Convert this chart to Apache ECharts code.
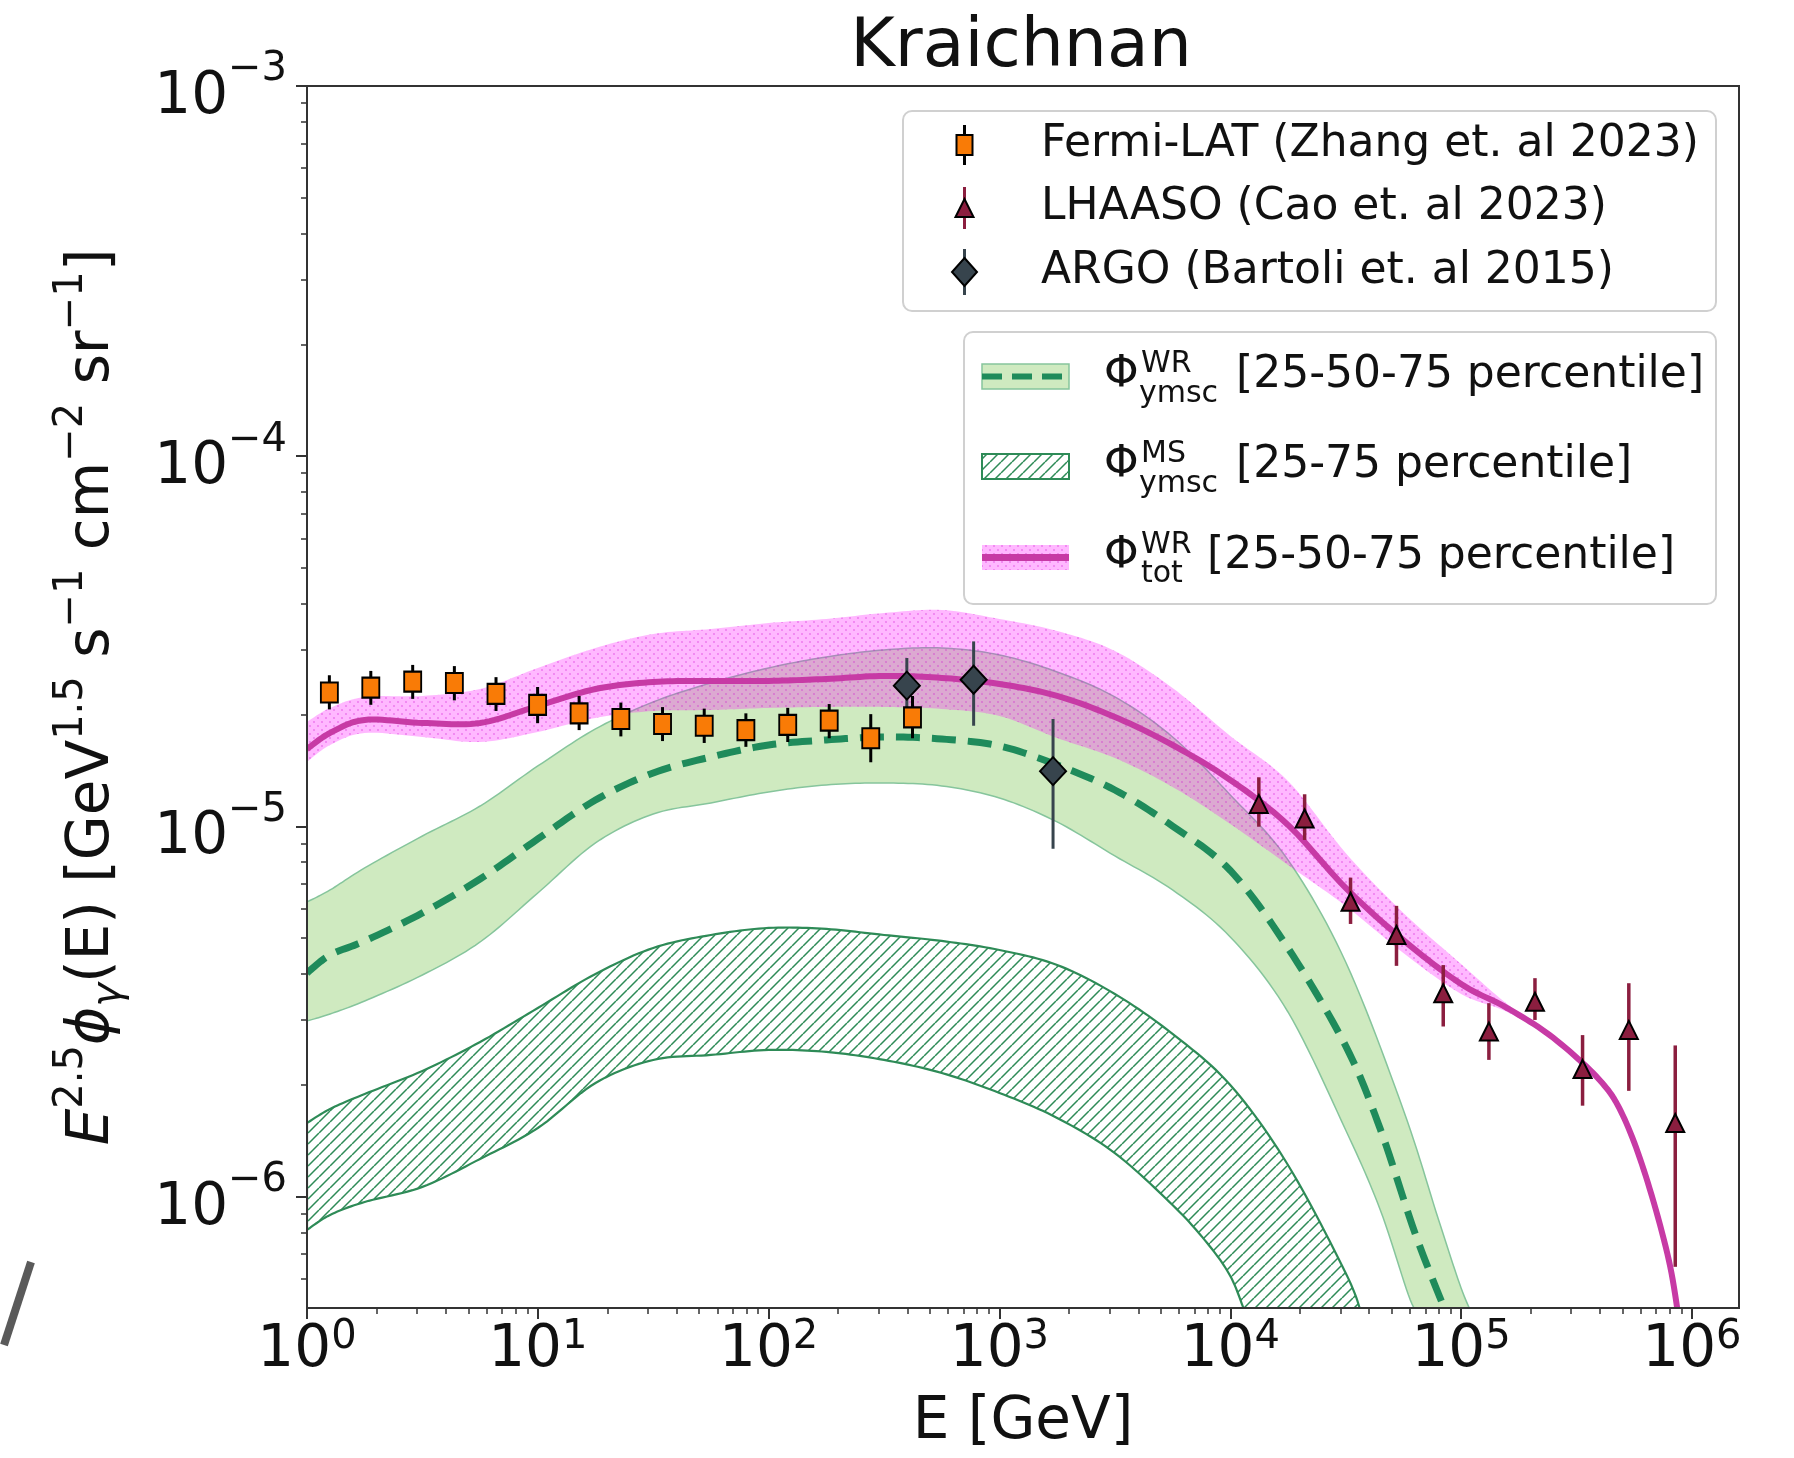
<!DOCTYPE html>
<html>
<head>
<meta charset="utf-8">
<script src="https://cdn.jsdelivr.net/npm/echarts@6/dist/echarts.min.js"></script>
<style>
  html, body { margin: 0; padding: 0; background: #fff; }
  #chart { width: 1794px; height: 1458px; }
</style>
</head>
<body>
<div id="chart"></div>
<script>
// ---------- measured data ----------
const fermiE    = [1.25, 1.89, 2.87, 4.35, 6.59, 9.98, 15.1, 22.9, 34.7, 52.6, 79.7, 121, 183, 277, 420];
const fermiFlux = [2.30e-5, 2.37e-5, 2.46e-5, 2.44e-5, 2.28e-5, 2.13e-5, 2.02e-5, 1.95e-5, 1.89e-5, 1.87e-5, 1.82e-5, 1.88e-5, 1.93e-5, 1.73e-5, 1.97e-5];
const fermiLo   = [2.07e-5, 2.13e-5, 2.21e-5, 2.19e-5, 2.05e-5, 1.90e-5, 1.82e-5, 1.75e-5, 1.70e-5, 1.68e-5, 1.64e-5, 1.69e-5, 1.73e-5, 1.49e-5, 1.73e-5];
const fermiHi   = [2.56e-5, 2.63e-5, 2.73e-5, 2.71e-5, 2.53e-5, 2.38e-5, 2.25e-5, 2.16e-5, 2.10e-5, 2.08e-5, 2.02e-5, 2.09e-5, 2.14e-5, 2.01e-5, 2.25e-5];

const lhaasoE    = [13300, 21000, 33200, 52500, 83700, 132000, 209000, 336000, 533000, 847000];
const lhaasoFlux = [1.15e-5, 1.05e-5, 6.26e-6, 5.09e-6, 3.54e-6, 2.79e-6, 3.36e-6, 2.21e-6, 2.82e-6, 1.58e-6];
const lhaasoLo   = [9.98e-6, 9.19e-6, 5.45e-6, 4.20e-6, 2.88e-6, 2.34e-6, 3.00e-6, 1.76e-6, 1.93e-6, 6.46e-7];
const lhaasoHi   = [1.357e-5, 1.221e-5, 7.27e-6, 6.10e-6, 4.22e-6, 3.33e-6, 3.89e-6, 2.73e-6, 3.77e-6, 2.56e-6];

const argoE    = [397, 773, 1707];
const argoFlux = [2.40e-5, 2.49e-5, 1.41e-5];
const argoLo   = [2.00e-5, 1.87e-5, 8.70e-6];
const argoHi   = [2.85e-5, 3.16e-5, 1.95e-5];

// ---------- model curves ----------
// energy grid shared by the total-flux band
const totE = [1, 1.259, 1.778, 3.162, 5.623, 10, 17.78, 31.62, 56.23, 100, 177.8, 316.2, 562.3, 1000, 1778, 3162, 5623,
              10000, 17783, 31623, 56234, 100000, 158489, 251189, 398107, 501187, 630957, 794328, 891251];
const totMedian = [1.618e-5, 1.788e-5, 1.939e-5, 1.903e-5, 1.903e-5, 2.115e-5, 2.350e-5, 2.455e-5, 2.471e-5, 2.471e-5,
                   2.502e-5, 2.549e-5, 2.518e-5, 2.425e-5, 2.251e-5, 1.975e-5, 1.659e-5, 1.335e-5, 1.009e-5, 6.82e-6,
                   4.93e-6, 3.752e-6, 3.231e-6, 2.682e-6, 2.065e-6, 1.661e-6, 1.137e-6, 6.74e-7, 4.36e-7];
const totUpper  = [1.915e-5, 2.089e-5, 2.237e-5, 2.251e-5, 2.350e-5, 2.679e-5, 3.033e-5, 3.309e-5, 3.414e-5, 3.543e-5,
                   3.633e-5, 3.771e-5, 3.842e-5, 3.633e-5, 3.372e-5, 2.977e-5, 2.365e-5, 1.755e-5, 1.326e-5, 8.475e-6,
                   5.836e-6, 4.249e-6, 3.313e-6, 2.716e-6, 2.091e-6, 1.682e-6, 1.151e-6, 6.83e-7, 4.42e-7];
const totLower  = [1.493e-5, 1.659e-5, 1.788e-5, 1.744e-5, 1.690e-5, 1.799e-5, 1.963e-5, 2.050e-5, 2.063e-5, 2.089e-5,
                   2.102e-5, 2.102e-5, 2.076e-5, 1.987e-5, 1.733e-5, 1.530e-5, 1.278e-5, 1.015e-5, 7.87e-6, 6.096e-6,
                   4.550e-6, 3.526e-6, 3.152e-6, 2.649e-6, 2.039e-6, 1.641e-6, 1.123e-6, 6.66e-7, 4.31e-7];

// WR young massive star clusters
const wrUpperE = [1, 1.259, 1.778, 3.162, 5.623, 10, 17.78, 31.62, 56.23, 100, 177.8, 316.2, 562.3, 1000, 1778, 3162, 5623,
                  10000, 17783, 31623, 56234, 79433, 100000, 114815];
const wrUpper  = [6.249e-6, 6.733e-6, 7.721e-6, 9.420e-6, 1.135e-5, 1.456e-5, 1.833e-5, 2.168e-5, 2.440e-5, 2.679e-5,
                  2.869e-5, 2.996e-5, 3.033e-5, 2.904e-5, 2.613e-5, 2.237e-5, 1.744e-5, 1.216e-5, 8.116e-6, 4.302e-6,
                  1.714e-6, 8.752e-7, 5.664e-7, 4.64e-7];
const wrLowerE = [1, 1.259, 1.778, 3.162, 5.623, 10, 17.78, 31.62, 56.23, 100, 177.8, 316.2, 562.3, 1000, 1778, 3162, 5623,
                  10000, 17783, 31623, 44668, 60256, 67608];
const wrLower  = [2.981e-6, 3.113e-6, 3.376e-6, 3.968e-6, 4.872e-6, 6.609e-6, 9.020e-6, 1.080e-5, 1.157e-5, 1.239e-5,
                  1.294e-5, 1.310e-5, 1.286e-5, 1.193e-5, 1.028e-5, 8.320e-6, 6.733e-6, 5.026e-6, 3.152e-6, 1.513e-6,
                  9.20e-7, 5.257e-7, 4.79e-7];
const wrMedianE = [1, 1.259, 1.778, 3.162, 5.623, 10, 17.78, 31.62, 56.23, 100, 177.8, 316.2, 562.3, 1000, 1778, 3162, 5623,
                   10000, 17783, 31623, 44668, 63096, 85114];
const wrMedian  = [4.018e-6, 4.494e-6, 4.903e-6, 5.836e-6, 7.209e-6, 9.247e-6, 1.178e-5, 1.394e-5, 1.540e-5, 1.659e-5,
                   1.712e-5, 1.744e-5, 1.722e-5, 1.649e-5, 1.465e-5, 1.254e-5, 1.002e-5, 7.60e-6, 4.694e-6, 2.552e-6,
                   1.522e-6, 7.974e-7, 4.94e-7];

// MS young massive star clusters
const msUpperE = [1, 1.259, 1.778, 3.162, 5.623, 10, 17.78, 31.62, 56.23, 100, 177.8, 316.2, 562.3, 1000, 1778, 3162, 5623,
                  10000, 17783, 31623, 37154];
const msUpper  = [1.580e-6, 1.725e-6, 1.893e-6, 2.185e-6, 2.616e-6, 3.231e-6, 3.994e-6, 4.694e-6, 5.089e-6, 5.316e-6,
                  5.283e-6, 5.089e-6, 4.903e-6, 4.636e-6, 4.223e-6, 3.526e-6, 2.750e-6, 2.002e-6, 1.217e-6, 6.218e-7, 4.79e-7];
const msLowerE = [1, 1.259, 1.778, 3.162, 5.623, 10, 17.78, 31.62, 56.23, 100, 177.8, 316.2, 562.3, 1000, 1778, 3162, 5623,
                  7943, 10000, 11482];
const msLower  = [8.126e-7, 8.920e-7, 9.670e-7, 1.062e-6, 1.264e-6, 1.532e-6, 2.027e-6, 2.339e-6, 2.413e-6, 2.489e-6,
                  2.459e-6, 2.339e-6, 2.157e-6, 1.905e-6, 1.631e-6, 1.310e-6, 9.49e-7, 7.49e-7, 6.103e-7, 4.94e-7];

// axis ticks
const xTickValues = [1, 10, 100, 1e3, 1e4, 1e5, 1e6];
const yTickValues = [1e-6, 1e-5, 1e-4, 1e-3];
const xRange = [1, 1.6e6];
const yRange = [5e-7, 1e-3];

// ---------- styling helpers ----------
const FONT = '"DejaVu Sans", "Liberation Sans", sans-serif';
const TXT = '#111';
const C_ORANGE = '#f97b06', C_LHAASO = '#8b1e3f', C_ARGO = '#37444d';
const C_MAG = '#c73aa5', C_DASH = '#1f8b5b', C_HATCH = '#2e8b57';
const C_GREEN = '#cfeac0', C_GREEN_EDGE = '#86c59c';

function makeHatch(color) {
  const s = 11, c = document.createElement('canvas');
  c.width = s; c.height = s;
  const g = c.getContext('2d');
  g.strokeStyle = color; g.lineWidth = 1.5;
  g.beginPath();
  for (const o of [-s, 0, s]) { g.moveTo(o, s); g.lineTo(o + s, 0); }
  g.stroke();
  return c;
}
function makeDots() {
  const s = 8, c = document.createElement('canvas');
  c.width = s; c.height = s;
  const g = c.getContext('2d');
  g.fillStyle = 'rgba(255,0,255,0.28)';
  g.fillRect(0, 0, s, s);
  g.fillStyle = 'rgba(205,0,205,0.32)';
  for (const p of [[2, 2], [6, 6]]) { g.beginPath(); g.arc(p[0], p[1], 1.1, 0, Math.PI * 2); g.fill(); }
  return c;
}
const hatchFill = { image: makeHatch(C_HATCH), repeat: 'repeat' };
const dotFill = { image: makeDots(), repeat: 'repeat' };

// Catmull-Rom smoothing of screen points
function smooth(pts, steps) {
  const out = [];
  for (let i = 0; i < pts.length - 1; i++) {
    const p0 = pts[i - 1] || pts[i], p1 = pts[i], p2 = pts[i + 1], p3 = pts[i + 2] || pts[i + 1];
    const c1 = [p1[0] + (p2[0] - p0[0]) / 6, p1[1] + (p2[1] - p0[1]) / 6];
    const c2 = [p2[0] - (p3[0] - p1[0]) / 6, p2[1] - (p3[1] - p1[1]) / 6];
    for (let k = 0; k < steps; k++) {
      const t = k / steps, u = 1 - t;
      const a = u * u * u, b = 3 * u * u * t, c = 3 * u * t * t, d = t * t * t;
      out.push([a * p1[0] + b * c1[0] + c * c2[0] + d * p2[0], a * p1[1] + b * c1[1] + c * c2[1] + d * p2[1]]);
    }
  }
  out.push(pts[pts.length - 1]);
  return out;
}

function bandSeries(id, upE, upV, loE, loV, style, z) {
  return {
    type: 'custom', id, coordinateSystem: 'cartesian2d', clip: true, silent: true, z,
    data: [[upE[0], upV[0]]],
    renderItem(params, api) {
      const up = smooth(upE.map((e, i) => api.coord([e, upV[i]])), 12);
      const lo = smooth(loE.map((e, i) => api.coord([e, loV[i]])), 12).reverse();
      return { type: 'polygon', shape: { points: up.concat(lo) }, style };
    }
  };
}
function curveSeries(id, E, V, style, z) {
  return {
    type: 'custom', id, coordinateSystem: 'cartesian2d', clip: true, silent: true, z,
    data: [[E[0], V[0]]],
    renderItem(params, api) {
      const pts = smooth(E.map((e, i) => api.coord([e, V[i]])), 12);
      return { type: 'polyline', shape: { points: pts }, style: Object.assign({ fill: null }, style) };
    }
  };
}
function errorSeries(id, E, lo, hi, color, width, z) {
  return {
    type: 'custom', id, coordinateSystem: 'cartesian2d', clip: false, silent: true, z,
    data: E.map((e, i) => [e, lo[i], hi[i]]),
    renderItem(params, api) {
      const a = api.coord([api.value(0), api.value(1)]);
      const b = api.coord([api.value(0), api.value(2)]);
      return { type: 'line', shape: { x1: a[0], y1: a[1], x2: b[0], y2: b[1] }, style: { stroke: color, lineWidth: width } };
    }
  };
}
function markerSeries(id, E, V, symbol, size, color, z) {
  return {
    type: 'scatter', id, symbol, symbolSize: size, z, silent: true,
    data: E.map((e, i) => [e, V[i]]),
    itemStyle: { color, borderColor: '#000', borderWidth: 2, opacity: 1 }
  };
}

// ---------- tick label formatting ----------
function decadeLabel(v) {
  const p = Math.round(Math.log10(v));
  return '{b|10}{s|' + (p < 0 ? '\u2212' + (-p) : String(p)) + '}';
}
const yTickRich = {
  b: { fontFamily: FONT, fontSize: 58, color: TXT, height: 58, lineHeight: 90, padding: [28, 0, 4, 0], verticalAlign: 'top' },
  s: { fontFamily: FONT, fontSize: 40, color: TXT, height: 40, lineHeight: 90, padding: [9, 0, 41, 0], verticalAlign: 'top' }
};
const xTickRich = {
  b: { fontFamily: FONT, fontSize: 58, color: TXT, height: 58, lineHeight: 62, padding: [4, 0, 0, 0], verticalAlign: 'top' },
  s: { fontFamily: FONT, fontSize: 40, color: TXT, height: 40, lineHeight: 62, padding: [0, 0, 22, 0], verticalAlign: 'top' }
};
const nameRich = {
  r:  { fontFamily: FONT, fontSize: 58, color: TXT, height: 58, lineHeight: 100, padding: [21, 0, 21, 0], verticalAlign: 'top' },
  it: { fontFamily: FONT, fontSize: 58, fontStyle: 'italic', color: TXT, height: 58, lineHeight: 100, padding: [21, 0, 21, 0], verticalAlign: 'top' },
  s:  { fontFamily: FONT, fontSize: 40, color: TXT, height: 40, lineHeight: 100, padding: [8, 0, 52, 0], verticalAlign: 'top' },
  u:  { fontFamily: FONT, fontSize: 40, fontStyle: 'italic', color: TXT, height: 40, lineHeight: 100, padding: [46, 0, 14, 0], verticalAlign: 'top' }
};
const yName = '{it|E}{s|2.5}{it|\u03d5}{u|\u03b3}{r|(E) [GeV}{s|1.5}{r| s}{s|\u22121}{r| cm}{s|\u22122}{r| sr}{s|\u22121}{r|]}';

function axisCommon(ticks, rich, margin) {
  return {
    type: 'log', logBase: 10, z: 10,
    axisLine: { show: true, lineStyle: { color: '#333', width: 2 } },
    axisTick: { show: true, inside: false, length: 11, customValues: ticks, lineStyle: { color: '#333', width: 2 } },
    minorTick: { show: true, splitNumber: 9, length: 6, lineStyle: { color: '#333', width: 1.5 } },
    axisLabel: { show: true, customValues: ticks, margin, formatter: decadeLabel, rich },
    splitLine: { show: false }, minorSplitLine: { show: false }
  };
}

// ---------- legend graphics ----------
function txt(text, x, y, size, extra) {
  return { type: 'text', silent: true, z: 100, style: Object.assign({
    text, x, y, fill: TXT, font: size + 'px ' + FONT,
    textAlign: 'left', align: 'left', textVerticalAlign: 'middle', verticalAlign: 'middle'
  }, extra || {}) };
}
const legendGraphics = [
  // data legend box
  { type: 'rect', silent: true, z: 90, shape: { x: 903, y: 111, width: 813, height: 200, r: 9 },
    style: { fill: 'rgba(255,255,255,0.85)', stroke: '#d0d0d0', lineWidth: 2 } },
  { type: 'line', silent: true, z: 95, shape: { x1: 964.5, y1: 125, x2: 964.5, y2: 165 }, style: { stroke: '#000', lineWidth: 3 } },
  { type: 'rect', silent: true, z: 96, shape: { x: 956.5, y: 135, width: 16, height: 20 }, style: { fill: C_ORANGE, stroke: '#000', lineWidth: 2 } },
  { type: 'line', silent: true, z: 95, shape: { x1: 964.5, y1: 187, x2: 964.5, y2: 229 }, style: { stroke: C_LHAASO, lineWidth: 3 } },
  { type: 'polygon', silent: true, z: 96, shape: { points: [[964.5, 199], [955.5, 217], [973.5, 217]] }, style: { fill: C_LHAASO, stroke: '#000', lineWidth: 2 } },
  { type: 'line', silent: true, z: 95, shape: { x1: 964.5, y1: 249, x2: 964.5, y2: 295 }, style: { stroke: C_ARGO, lineWidth: 3 } },
  { type: 'polygon', silent: true, z: 96, shape: { points: [[964.5, 258], [977, 272], [964.5, 286], [952, 272]] }, style: { fill: C_ARGO, stroke: '#000', lineWidth: 2 } },
  txt('Fermi-LAT (Zhang et. al 2023)', 1041, 145, 44),
  txt('LHAASO (Cao et. al 2023)', 1041, 208, 44),
  txt('ARGO (Bartoli et. al 2015)', 1041, 272, 44),

  // model legend box
  { type: 'rect', silent: true, z: 90, shape: { x: 964, y: 332, width: 752, height: 272, r: 9 },
    style: { fill: 'rgba(255,255,255,0.85)', stroke: '#d0d0d0', lineWidth: 2 } },
  { type: 'rect', silent: true, z: 95, shape: { x: 982, y: 364, width: 87, height: 25 }, style: { fill: C_GREEN, stroke: C_GREEN_EDGE, lineWidth: 1.5 } },
  { type: 'line', silent: true, z: 96, shape: { x1: 982, y1: 376.5, x2: 1069, y2: 376.5 }, style: { stroke: C_DASH, lineWidth: 6, lineDash: [20, 10] } },
  { type: 'rect', silent: true, z: 95, shape: { x: 982, y: 454, width: 87, height: 25 }, style: { fill: hatchFill, stroke: C_HATCH, lineWidth: 2 } },
  { type: 'rect', silent: true, z: 95, shape: { x: 982, y: 545, width: 87, height: 25 }, style: { fill: dotFill } },
  { type: 'line', silent: true, z: 96, shape: { x1: 982, y1: 557.5, x2: 1069, y2: 557.5 }, style: { stroke: C_MAG, lineWidth: 7 } },

  txt('\u03a6', 1104, 376, 44), txt('WR', 1141, 364, 30), txt('ymsc', 1139, 394, 30),
  txt('[25-50-75 percentile]', 1236, 376, 44),
  txt('\u03a6', 1104, 466, 44), txt('MS', 1141, 454, 30), txt('ymsc', 1139, 484, 30),
  txt('[25-75 percentile]', 1236, 466, 44),
  txt('\u03a6', 1104, 557, 44), txt('WR', 1141, 545, 30), txt('tot', 1141, 574, 30),
  txt('[25-50-75 percentile]', 1207, 557, 44),

  // title
  txt('Kraichnan', 1021, 48, 68, { textAlign: 'center', align: 'center' }),
  // clipped stroke at the lower-left border
  { type: 'polyline', silent: true, z: 5, shape: { points: [[31, 1262], [4, 1345]] }, style: { stroke: '#5a5a5a', lineWidth: 8, fill: null } }
];

// ---------- chart ----------
const chart = echarts.init(document.getElementById('chart'), null, { renderer: 'canvas' });
chart.setOption({
  animation: false,
  backgroundColor: '#fff',
  grid: { left: 307, top: 86, width: 1432, height: 1222, show: true, borderColor: '#333', borderWidth: 2,
          backgroundColor: 'transparent', z: 10, containLabel: false, outerBoundsMode: 'none' },
  xAxis: [Object.assign(axisCommon(xTickValues, xTickRich, 10), {
    min: xRange[0], max: xRange[1], position: 'bottom',
    name: 'E [GeV]', nameLocation: 'middle', nameGap: 86,
    nameTextStyle: { fontFamily: FONT, fontSize: 58, color: TXT }
  })],
  yAxis: [Object.assign(axisCommon(yTickValues, yTickRich, 20), {
    min: yRange[0], max: yRange[1], position: 'left',
    name: yName, nameLocation: 'middle', nameRotate: 90, nameGap: 150,
    nameTextStyle: { rich: nameRich }
  })],
  graphic: { elements: legendGraphics },
  series: [
    bandSeries('wrBand', wrUpperE, wrUpper, wrLowerE, wrLower, { fill: C_GREEN, stroke: C_GREEN_EDGE, lineWidth: 1.5 }, 1),
    bandSeries('msBand', msUpperE, msUpper, msLowerE, msLower, { fill: hatchFill, stroke: C_HATCH, lineWidth: 2.2 }, 2),
    curveSeries('wrMedian', wrMedianE, wrMedian, { stroke: C_DASH, lineWidth: 7, lineDash: [24, 12] }, 3),
    bandSeries('totBand', totE, totUpper, totE, totLower, { fill: dotFill }, 4),
    curveSeries('totMedian', totE, totMedian, { stroke: C_MAG, lineWidth: 6, lineJoin: 'round' }, 5),
    errorSeries('fermiErr', fermiE, fermiLo, fermiHi, '#000', 3, 6),
    errorSeries('argoErr', argoE, argoLo, argoHi, C_ARGO, 3, 6),
    errorSeries('lhaasoErr', lhaasoE, lhaasoLo, lhaasoHi, C_LHAASO, 3.5, 6),
    markerSeries('fermi', fermiE, fermiFlux, 'rect', [17, 20], C_ORANGE, 7),
    markerSeries('argo', argoE, argoFlux, 'diamond', [26, 28], C_ARGO, 7),
    markerSeries('lhaaso', lhaasoE, lhaasoFlux, 'triangle', [18, 18], C_LHAASO, 7)
  ]
});
</script>
</body>
</html>
